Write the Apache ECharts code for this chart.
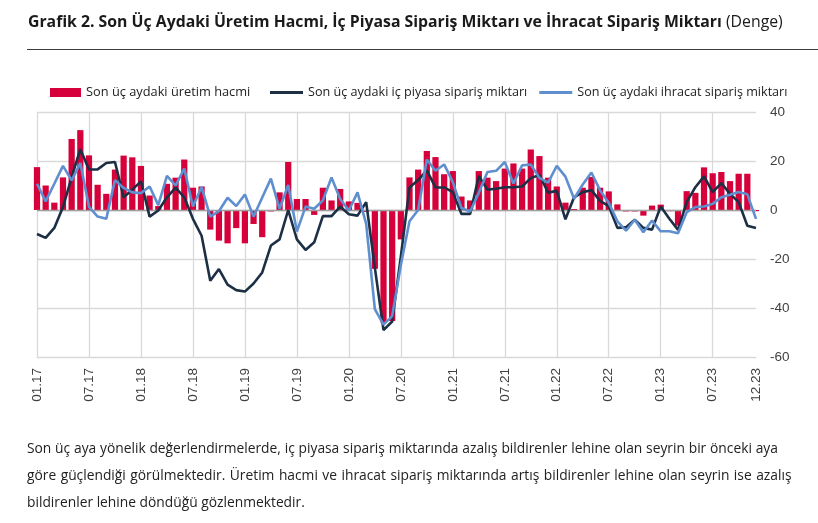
<!DOCTYPE html>
<html>
<head>
<meta charset="utf-8">
<script src="https://cdn.jsdelivr.net/npm/echarts@6/dist/echarts.min.js"></script>
<style>
  html, body { margin:0; padding:0; background:#fff; }
  body { width:818px; height:523px; position:relative; overflow:hidden; font-family:"Open Sans", sans-serif; color:#222; }
  #chart { position:absolute; left:0; top:0; width:818px; height:523px; }
  #title { position:absolute; left:28px; top:10px; font-size:15.8px; white-space:nowrap; color:#1a1a1a; }
  #title b { font-weight:700; }
  #rule { position:absolute; left:27px; top:49px; width:791px; height:0; border-top:1.5px solid #3a3a3a; }
  #para { position:absolute; left:27px; top:434px; font-size:13.8px; line-height:27px; color:#222; }
  #para div { white-space:nowrap; }
  #para .l1 { word-spacing:0.2px; }
  #para .l2 { word-spacing:0.9px; }
</style>
</head>
<body>
<div id="chart"></div>
<div id="title"><b>Grafik 2. Son Üç Aydaki Üretim Hacmi, İç Piyasa Sipariş Miktarı ve İhracat Sipariş Miktarı</b> (Denge)</div>
<div id="rule"></div>
<div id="para">
  <div class="l1">Son üç aya yönelik değerlendirmelerde, iç piyasa sipariş miktarında azalış bildirenler lehine olan seyrin bir önceki aya</div>
  <div class="l2">göre güçlendiği görülmektedir. Üretim hacmi ve ihracat sipariş miktarında artış bildirenler lehine olan seyrin ise azalış</div>
  <div>bildirenler lehine döndüğü gözlenmektedir.</div>
</div>
<script>
// Monthly categories 01.17 .. 12.23
const years = ['17','18','19','20','21','22','23'];
const months = ['01','02','03','04','05','06','07','08','09','10','11','12'];
const categories = [];
years.forEach(y => months.forEach(m => categories.push(m + '.' + y)));

const seriesNames = ['Son üç aydaki üretim hacmi', 'Son üç aydaki iç piyasa sipariş miktarı', 'Son üç aydaki ihracat sipariş miktarı'];

const production = [
  17.5, 10, 3, 13.3, 29, 32.6, 22.3, 10.3, 6.6, 16.5, 22.2, 21.5,
  18, 5.9, 1.6, 10.7, 13.2, 20.6, 9.1, 9.6, -8, -12.5, -13.6, -7.4,
  -13.6, -5.7, -11.1, -0.6, 7.2, 19.6, 4.5, 4.5, -2, 9.1, 3.9, 8.6,
  3.5, 2.9, -0.8, -24, -46, -45.3, -12, 13.3, 16.5, 24.1, 21.6, 14.6,
  15.9, 5.5, 3.9, 15.9, 13.2, 11.8, 16.9, 19, 16.9, 24.7, 22, 13.2,
  9.6, 3, 0.4, 9.1, 13.5, 9.1, 7.6, 2.3, -0.6, -0.6, -2.3, 1.8,
  2.2, -0.5, -6.4, 7.7, 7, 17.4, 15, 15.5, 11.8, 14.8, 14.8, -0.5
];

const domesticOrders = [
  -9.8, -11.4, -7.3, 1.2, 13.4, 24.8, 16.5, 16.6, 19.2, 19.6, 5.2, 8.3,
  11.7, -2.7, -0.2, 5.2, 9.1, 5.2, -3.6, -10.5, -28.9, -24.1, -30.5, -32.7,
  -33.3, -30, -25.5, -14.5, -12, 0, -12, -16.3, -13.2, -2.5, -2.5, 1.4,
  -1.7, -2.3, 3.2, -23.5, -49, -45.5, -19, 9.2, 12.2, 16.2, 9.2, 9.2,
  7.3, -1.6, -1.6, 13.9, 8.3, 8.7, 9.3, 9.3, 9.6, 13, 14.3, 7.1,
  7.8, -3.8, 5.2, 7.3, 8.1, 3.7, 1.6, -7.3, -7, -4, -7.3, -8,
  1.4, -3.6, -8.1, 3.2, 9.3, 13.7, 7.3, 11, 6.6, 3.2, -6.4, -7.3
];

const exportOrders = [
  10.7, 3.5, 10.7, 18, 12.1, 19.2, 1.3, -2.7, -3.6, 12.2, 9, 7.2,
  6.9, 9.6, 2, 13.9, 10, 16.9, 1.4, 9.4, -2.7, -0.5, 5, 1.6,
  6.3, -2.7, 5.1, 12.8, 0.5, 10.2, -8.8, 1.4, 0.5, 3.9, 13.3, 4.5,
  -0.2, 7.2, -5.7, -40.5, -46.8, -43.3, -22.5, -4.6, 0, 20.6, 16, 18.6,
  11.4, 0.8, -0.6, 7, 15.5, 16, 19.6, 10.8, 18.2, 18.6, 13.1, 11.2,
  18, 13.6, 4.6, 10.4, 15.3, 8, 3, -4.6, -8.4, -4, -9.1, -4.3,
  -8.7, -8.7, -9.5, -0.9, 1.2, 1.4, 2.5, 5.2, 6.2, 7.3, 6.4, -3.6
];

const yTicks = { min: -60, max: 40, interval: 20 };

const RED = '#d6003a', NAVY = '#1c2f45', BLUE = '#5f8fcf';
const lastIdx = categories.length - 1;

const chart = echarts.init(document.getElementById('chart'), null, { renderer: 'canvas' });
chart.setOption({
  animation: false,
  backgroundColor: 'transparent',
  textStyle: { fontFamily: 'Open Sans, sans-serif' },
  legend: [
    {
      data: [{ name: seriesNames[0], icon: 'rect' }],
      left: 45, top: 81, itemWidth: 31, itemHeight: 9,
      textStyle: { fontSize: 12.8, color: '#222', fontFamily: 'Open Sans' },
      selectedMode: false
    },
    {
      data: [{ name: seriesNames[1], icon: 'rect' }, { name: seriesNames[2], icon: 'rect' }],
      left: 265, top: 81, itemWidth: 33, itemHeight: 3, itemGap: 12,
      textStyle: { fontSize: 12.6, color: '#222', fontFamily: 'Open Sans' },
      selectedMode: false
    }
  ],
  grid: { left: 37, right: 62, top: 112, bottom: 166, containLabel: false },
  xAxis: {
    type: 'category',
    data: categories,
    boundaryGap: false,
    axisLine: { show: true, onZero: false, lineStyle: { color: '#d9d9d9', width: 1 } },
    axisTick: { show: false },
    axisLabel: {
      rotate: 90,
      margin: 11,
      fontSize: 13.5,
      color: '#404040',
      fontFamily: 'Liberation Sans, Arial, sans-serif',
      interval: (i) => i % 6 === 0 || i === lastIdx,
      formatter: (v) => v
    },
    splitLine: {
      show: true,
      interval: (i) => i % 6 === 0,
      lineStyle: { color: '#d9d9d9', width: 1.3 }
    }
  },
  yAxis: {
    type: 'value',
    position: 'right',
    min: yTicks.min, max: yTicks.max, interval: yTicks.interval,
    axisLine: { show: false },
    axisTick: { show: false },
    axisLabel: { margin: 14, fontSize: 13.5, color: '#404040', fontFamily: 'Liberation Sans, Arial, sans-serif' },
    splitLine: { lineStyle: { color: '#d9d9d9', width: 1.3 } }
  },
  series: [
    {
      name: seriesNames[0],
      type: 'bar',
      data: production,
      barCategoryGap: '28%',
      clip: true,
      itemStyle: { color: RED },
      color: RED,
      z: 2,
      markLine: {
        silent: true,
        symbol: 'none',
        label: { show: false },
        lineStyle: { color: '#a0a0a0', width: 1.3, type: 'solid' },
        data: [{ yAxis: 0 }],
        z: 3
      }
    },
    {
      name: seriesNames[1],
      type: 'line',
      data: domesticOrders,
      showSymbol: false,
      symbol: 'none',
      color: NAVY,
      itemStyle: { color: NAVY },
      lineStyle: { color: NAVY, width: 2.6 },
      z: 4
    },
    {
      name: seriesNames[2],
      type: 'line',
      data: exportOrders,
      showSymbol: false,
      symbol: 'none',
      color: BLUE,
      itemStyle: { color: BLUE },
      lineStyle: { color: BLUE, width: 2.6 },
      z: 5
    }
  ]
});
</script>
</body>
</html>
